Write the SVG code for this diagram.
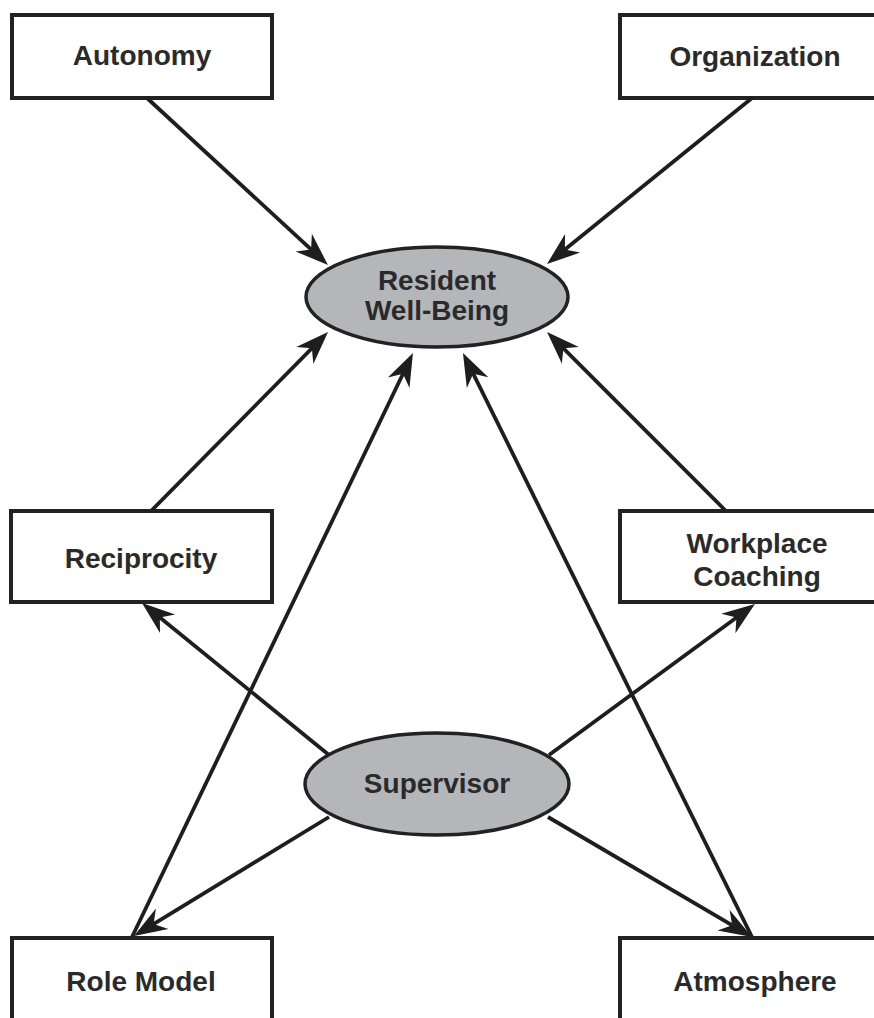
<svg xmlns="http://www.w3.org/2000/svg" width="874" height="1018" viewBox="0 0 874 1018">
<style>
.box{fill:#fff;stroke:#222;stroke-width:4}
.oval{fill:#b5b6b9;stroke:#222;stroke-width:3.5}
.lbl{font-family:"Liberation Sans",Arial,sans-serif;font-weight:bold;font-size:28px;fill:#2a2a2a;text-anchor:middle}
.con{fill:none;stroke:#1e1e1e;stroke-width:3.8;marker-end:url(#ah)}
</style>
<defs>
<marker id="ah" viewBox="-34 -13 36 26" refX="-8" refY="0" markerWidth="36" markerHeight="26" orient="auto" markerUnits="userSpaceOnUse">
<path d="M0,0 L-33,-12 L-23,0 L-33,12 Z" fill="#1e1e1e"/>
</marker>
</defs>
<rect width="874" height="1018" fill="#fff"/>
<g id="autonomy"><rect class="box" x="12" y="15" width="260" height="83"/><text class="lbl" x="142" y="65">Autonomy</text></g>
<g id="organization"><rect class="box" x="620" y="15" width="270" height="83"/><text class="lbl" x="755" y="66">Organization</text></g>
<g id="resident"><ellipse class="oval" cx="437" cy="297" rx="131" ry="50"/><text class="lbl" x="437" y="290">Resident</text><text class="lbl" x="437" y="320">Well-Being</text></g>
<g id="reciprocity"><rect class="box" x="11" y="511" width="261" height="91"/><text class="lbl" x="141" y="568">Reciprocity</text></g>
<g id="workplace"><rect class="box" x="620" y="511" width="270" height="91"/><text class="lbl" x="757" y="553">Workplace</text><text class="lbl" x="757" y="586">Coaching</text></g>
<g id="supervisor"><ellipse class="oval" cx="437" cy="784" rx="132" ry="51"/><text class="lbl" x="437" y="793">Supervisor</text></g>
<g id="rolemodel"><rect class="box" x="12" y="938" width="260" height="100"/><text class="lbl" x="141" y="991">Role Model</text></g>
<g id="atmosphere"><rect class="box" x="620" y="938" width="270" height="100"/><text class="lbl" x="755" y="991">Atmosphere</text></g>
<g id="connectors">
<path class="con" d="M147,98 L322.1,259.6"/>
<path class="con" d="M752,98 L553.2,259"/>
<path class="con" d="M152,510 L322.4,337.7"/>
<path class="con" d="M725,510 L552.7,337.7"/>
<path class="con" d="M132,937 L409.5,360.2"/>
<path class="con" d="M752,937 L466.5,360.2"/>
<path class="con" d="M329,755 L148.2,608"/>
<path class="con" d="M549,755 L748.5,608.7"/>
<path class="con" d="M329,817 L140.8,931.8"/>
<path class="con" d="M548,817 L745.1,932.9"/>
</g>
</svg>
